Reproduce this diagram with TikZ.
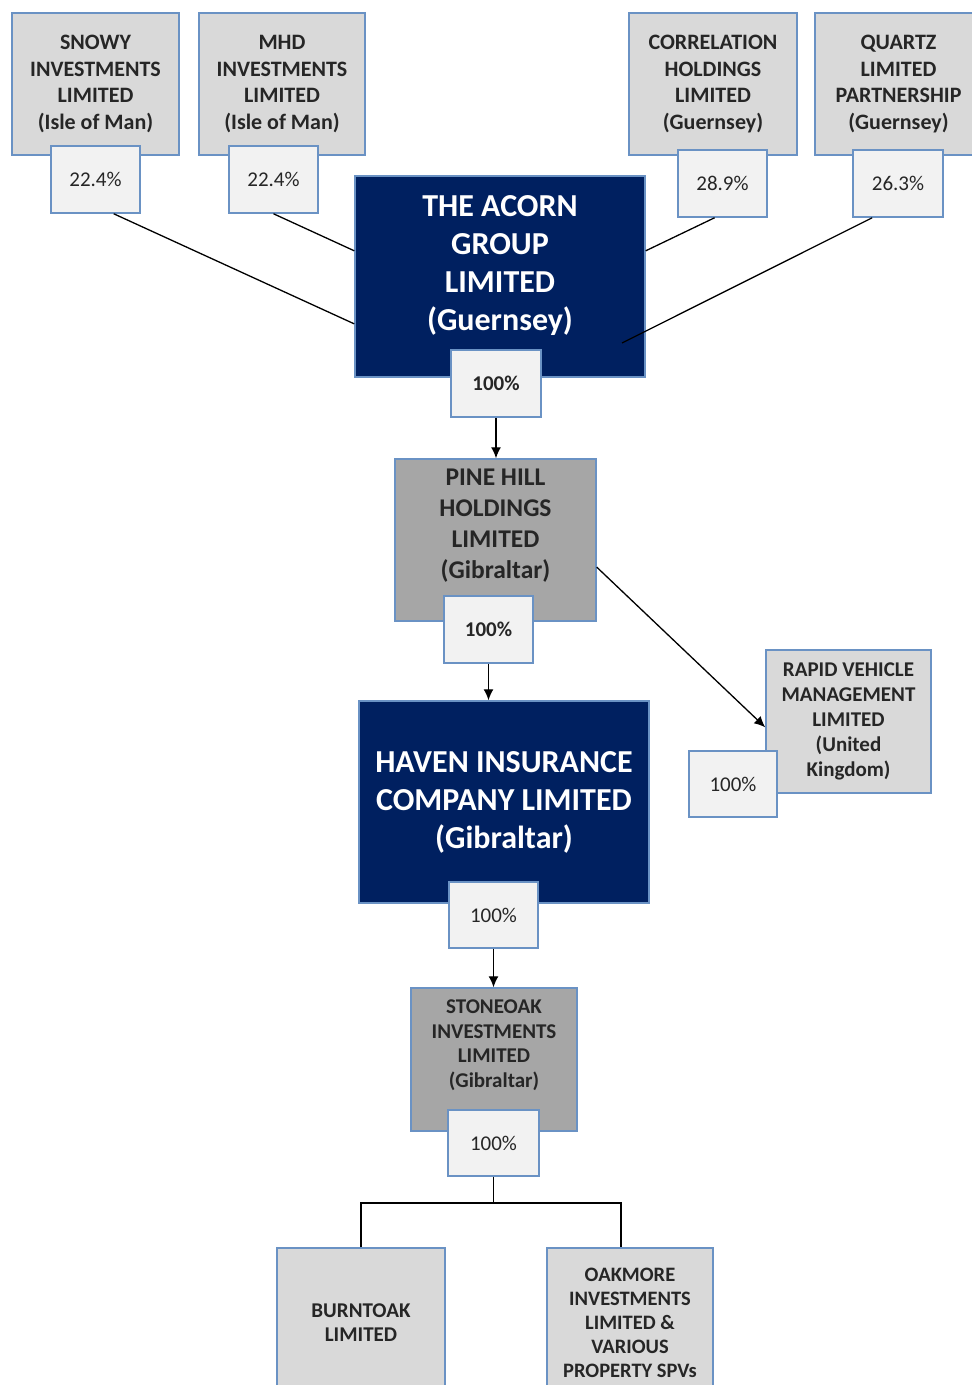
\documentclass[tikz,border=0pt]{standalone}
\usepackage{fontspec}
\setmainfont{Carlito}
\usetikzlibrary{arrows.meta}

\definecolor{acornblue}{HTML}{002060}
\definecolor{edgeblue}{HTML}{6A92C4}
\definecolor{lightgrey}{HTML}{D9D9D9}
\definecolor{midgrey}{HTML}{A6A6A6}
\definecolor{sharefill}{HTML}{F2F2F2}
\definecolor{inkgrey}{HTML}{262626}

\tikzset{
  company/.style={draw=edgeblue, line width=1.5pt, fill=lightgrey, text=inkgrey,
    align=center, inner sep=0pt, font=\bfseries\fontsize{22}{26.7}\selectfont},
  holding/.style={company, fill=midgrey},
  parent/.style={company, fill=acornblue, text=white},
  bigtext/.style={text=white, align=center, font=\bfseries\fontsize{32}{38}\selectfont},
  share/.style={draw=edgeblue, line width=1.5pt, fill=sharefill, text=inkgrey,
    inner sep=0pt, minimum width=89, minimum height=67, font=\fontsize{21}{24}\selectfont},
  link/.style={line width=1.3pt},
  own/.style={link, -{Latex[length=11pt,width=10pt]}},
}

\begin{document}
\begin{tikzpicture}[x=1pt, y=-1pt]
  \useasboundingbox (0,0) rectangle (972,1385);
  \clip (0,0) rectangle (972,1385);

  % Shareholders
  \node[company, minimum width=167, minimum height=142] (snowy) at (95.5,84)
    {SNOWY\\INVESTMENTS\\LIMITED\\(Isle of Man)};
  \node[company, minimum width=166, minimum height=142] (mhd) at (282,84)
    {MHD\\INVESTMENTS\\LIMITED\\(Isle of Man)};
  \node[company, minimum width=168, minimum height=142] (corr) at (713,84)
    {CORRELATION\\HOLDINGS\\LIMITED\\(Guernsey)};
  \node[company, minimum width=167, minimum height=142] (quartz) at (898.5,84)
    {QUARTZ\\LIMITED\\PARTNERSHIP\\(Guernsey)};
  \node[share] (pSnowy) at (95.5,179.5) {22.4\%};
  \node[share] (pMhd) at (273.5,179.5) {22.4\%};
  \node[share] (pCorr) at (722.5,183.5) {28.9\%};
  \node[share, minimum width=90] (pQuartz) at (898,183.5) {26.3\%};

  % Group
  \node[parent, minimum width=290, minimum height=201,
    label={[bigtext, yshift=11pt]center:{THE ACORN\\GROUP\\LIMITED\\(Guernsey)}}] (acorn) at (500,276.5) {};
  \node[share, font=\bfseries\fontsize{21}{24}\selectfont, minimum width=90] (pAcorn) at (496,383.5) {100\%};

  \node[holding, minimum width=201, minimum height=162,
    label={[text=inkgrey, align=center, font=\bfseries\fontsize{25.5}{31}\selectfont, yshift=14.5pt]center:{PINE HILL\\HOLDINGS\\LIMITED\\(Gibraltar)}}] (pine) at (495.5,540) {};
  \node[share, font=\bfseries\fontsize{21}{24}\selectfont] (pPine) at (488.5,629.5) {100\%};

  \node[company, minimum width=165, minimum height=143, font=\bfseries\fontsize{21}{25}\selectfont] (rapid) at (848.5,721.5)
    {RAPID VEHICLE\\MANAGEMENT\\LIMITED\\(United\\Kingdom)};
  \node[share, minimum width=88, minimum height=66] (pRapid) at (733,784) {100\%};

  \node[parent, minimum width=290, minimum height=202, font=\bfseries\fontsize{32}{38}\selectfont] (haven) at (504,802)
    {HAVEN INSURANCE\\COMPANY LIMITED\\(Gibraltar)};
  \node[share, minimum height=66] (pHaven) at (493.5,915) {100\%};

  \node[holding, minimum width=166, minimum height=143,
    label={[text=inkgrey, align=center, font=\bfseries\fontsize{21}{24.5}\selectfont, yshift=14.5pt]center:{STONEOAK\\INVESTMENTS\\LIMITED\\(Gibraltar)}}] (stone) at (494,1059.5) {};
  \node[share, minimum width=91, minimum height=66] (pStone) at (493.5,1143) {100\%};

  \node[company, minimum width=168, minimum height=150, font=\bfseries\fontsize{21}{24}\selectfont] (burnt) at (361,1323)
    {BURNTOAK\\LIMITED};
  \node[company, minimum width=166, minimum height=150, font=\bfseries\fontsize{20.5}{24}\selectfont] (oak) at (630,1323)
    {OAKMORE\\INVESTMENTS\\LIMITED \&\\VARIOUS\\PROPERTY SPVs};

  % Shareholdings
  \coordinate (qEnd) at (622,343);
  \draw[link] (pSnowy.-62) -- (acorn.198);
  \draw[link] (pMhd.south) -- (acorn.170);
  \draw[link] (pCorr.-103) -- (acorn.10);
  \draw[link] (pQuartz.-127) -- (qEnd);

  % Subsidiaries
  \draw[own] (pAcorn.south) -- (pAcorn.south |- pine.north);
  \draw[own] (pPine.south) -- (pPine.south |- haven.north);
  \draw[own] (pine.-15) -- (rapid.-176);
  \draw[own] (pHaven.south) -- (pHaven.south |- stone.north);
  \coordinate (fork) at (493.5,1203);
  \draw[link] (pStone.south) -- (fork);
  \draw[link] (burnt.north) |- (fork) -| ([xshift=-9pt]oak.north);
\end{tikzpicture}
\end{document}
